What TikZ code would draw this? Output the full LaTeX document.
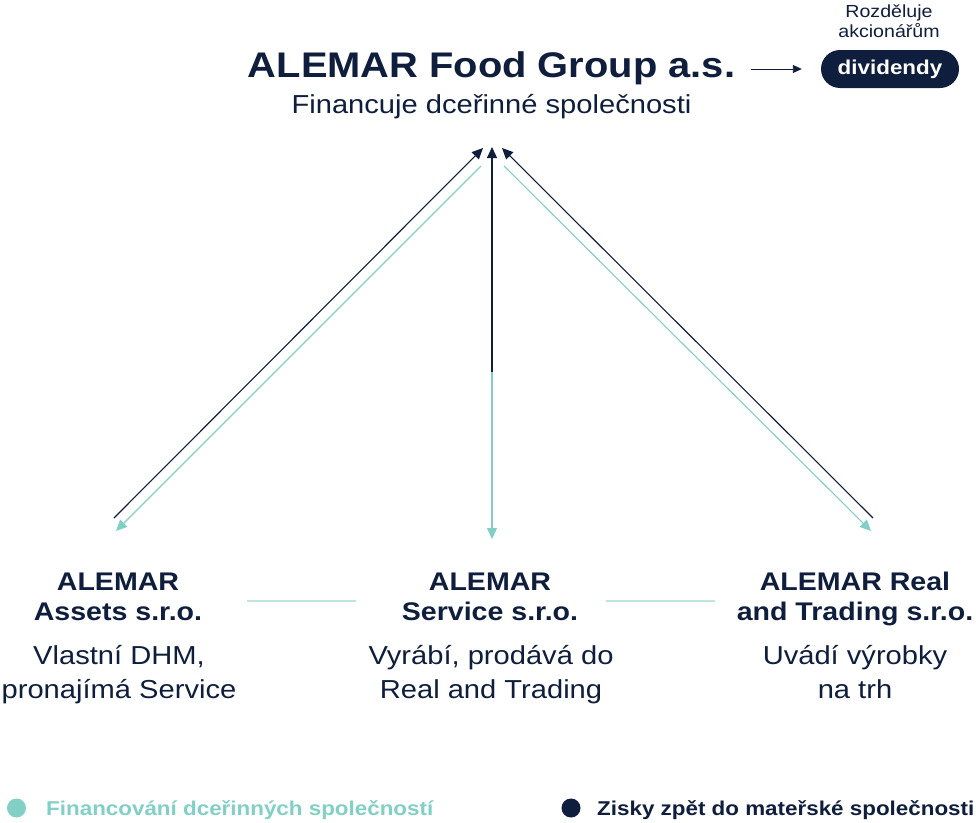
\documentclass[tikz,border=0pt]{standalone}
\usepackage{fontspec}
\setmainfont{Liberation Sans}[FakeStretch=1.12]
\usepackage{xcolor}
\usepackage{tikz}
\usetikzlibrary{arrows.meta}
\definecolor{navy}{HTML}{0F1E3C}
\definecolor{mint}{HTML}{82D0C5}
\definecolor{mintline}{HTML}{BDE6DF}
\tikzset{
  earn/.style={draw=navy, line width=1.1pt, -{Triangle[length=11pt,width=10pt]}},
  fund/.style={draw=mint, line width=1.1pt, -{Triangle[length=11pt,width=10pt]}},
  link/.style={draw=mintline, line width=1.6pt},
  firm/.style={font=\bfseries\fontsize{25.5}{30}\selectfont, text=navy, align=center, inner sep=0pt, anchor=base},
  role/.style={font=\fontsize{26}{34}\selectfont, text=navy, align=center, inner sep=0pt, anchor=base},
  pill/.style={fill=navy, rounded corners=19pt, minimum width=138pt, minimum height=38pt, text=white, font=\bfseries\fontsize{20}{24}\selectfont},
  dot/.style={circle, inner sep=0pt, minimum size=19pt},
  legm/.style={font=\bfseries\fontsize{20}{24}\selectfont, inner sep=0pt, anchor=base west}
}

\begin{document}
\begin{tikzpicture}[x=1pt, y=-1pt]
  \useasboundingbox (0,0) rectangle (976,822);
  \fill[white] (0,0) rectangle (976,822);
  % parent company
  \node[inner sep=0pt, anchor=base, text=navy, font=\bfseries\fontsize{35.6}{40}\selectfont] (group) at (491.5,77) {ALEMAR Food Group a.s.};
  \node[role] (groupr) at (491.5,113) {Financuje dceřinné společnosti};
  \node[pill] (div) at (890,69) {dividendy};
  \node[inner sep=0pt, anchor=base, text=navy, align=center, font=\fontsize{17.5}{20}\selectfont] (divr) at (889,37) {Rozděluje\\akcionářům};
  \coordinate (divin) at (751,69);
  \draw[earn, -{Triangle[length=9pt,width=8pt]}, line width=0.9pt, shorten >=19pt] (divin) -- (div.west);
  % subsidiaries
  \node[firm] (assets) at (118,620) {ALEMAR\\Assets s.r.o.};
  \node[role] (assetsr) at (119,698) {Vlastní DHM,\\pronajímá Service};
  \node[firm] (service) at (490,620) {ALEMAR\\Service s.r.o.};
  \node[role] (servicer) at (491,698) {Vyrábí, prodává do\\Real and Trading};
  \node[firm] (real) at (855,620) {ALEMAR Real\\and Trading s.r.o.};
  \node[role] (realr) at (855,698) {Uvádí výrobky\\na trh};
  \coordinate (linkA) at (247,601); \coordinate (linkB) at (356,601);
  \coordinate (linkC) at (606,601); \coordinate (linkD) at (715,601);
  \draw[link] (linkA) -- (linkB);
  \draw[link] (linkC) -- (linkD);
  % arrow ends
  \coordinate (upL) at (483,148); \coordinate (upM) at (492,147); \coordinate (upR) at (502,148);
  \coordinate (dnL) at (481,166); \coordinate (dnM) at (492,166); \coordinate (dnR) at (504,166);
  \coordinate (inL) at (116,531); \coordinate (inM) at (492,539); \coordinate (inR) at (871,531);
  \coordinate (outL) at (114,518); \coordinate (outM) at (492,372); \coordinate (outR) at (873,518);
  \draw[fund] (dnL) -- (inL);
  \draw[fund] (dnM) -- (inM);
  \draw[fund] (dnR) -- (inR);
  \draw[earn] (outL) -- (upL);
  \draw[earn] (outM) -- (upM);
  \draw[earn] (outR) -- (upR);
  % legend
  \node[dot, fill=mint] (legf) at (16.5,808) {};
  \node[legm, text=mint] (legft) at (46,815) {Financování dceřinných společností};
  \node[dot, fill=navy] (lege) at (571,808) {};
  \node[legm, text=navy] (leget) at (597,815) {Zisky zpět do mateřské společnosti};
\end{tikzpicture}
\end{document}
